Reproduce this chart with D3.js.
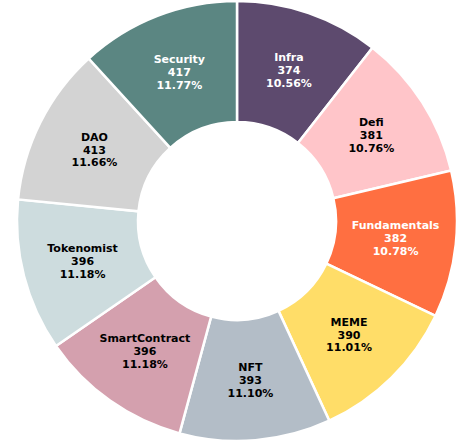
<!DOCTYPE html>
<html>
<head>
<meta charset="utf-8">
<script src="https://cdn.jsdelivr.net/npm/d3@7"></script>
<style>
  body { margin: 0; background: #fff; }
  svg { display: block; }
  .lbl { font-family: "DejaVu Sans", sans-serif; font-weight: bold; font-size: 11px; }
</style>
</head>
<body>
<svg id="chart"></svg>
<script>
let categories = ['Infra', 'Defi', 'Fundamentals', 'MEME', 'NFT', 'SmartContract', 'Tokenomist', 'DAO', 'Security'];
let values = [374, 381, 382, 390, 393, 396, 396, 413, 417];
let colors = ['#5d4a6e', '#ffc5c9', '#ff6f41', '#ffdd68', '#b3bdc7', '#d4a0ae', '#cddcde', '#d3d3d3', '#5b8682'];
let whiteText = ['Infra', 'Fundamentals', 'Security'];

let width = 459, height = 442;
let cx = 237, cy = 221;
let outerR = 220, innerR = 99;

let svg = d3.select('#chart')
  .attr('width', width)
  .attr('height', height);

let total = d3.sum(values);
let data = categories.map((c, i) => ({ name: c, value: values[i], color: colors[i] }));

let pie = d3.pie()
  .sort(null)
  .value(d => d.value);

let arc = d3.arc()
  .innerRadius(innerR)
  .outerRadius(outerR);

let labelArc = d3.arc()
  .innerRadius((innerR + outerR) / 2)
  .outerRadius((innerR + outerR) / 2);

let g = svg.append('g')
  .attr('transform', `translate(${cx}, ${cy})`);

let arcs = pie(data);

g.selectAll('.slice')
  .data(arcs)
  .enter()
  .append('path')
  .attr('class', 'slice')
  .attr('d', arc)
  .attr('fill', d => d.data.color)
  .attr('stroke', '#fff')
  .attr('stroke-width', 2.5);

let labels = g.selectAll('.lbl')
  .data(arcs)
  .enter()
  .append('text')
  .attr('class', 'lbl')
  .attr('text-anchor', 'middle')
  .attr('fill', d => whiteText.includes(d.data.name) ? '#fff' : '#000')
  .attr('transform', d => `translate(${labelArc.centroid(d)})`);

labels.each(function(d) {
  let t = d3.select(this);
  let lines = [d.data.name, d.data.value, (d.data.value / total * 100).toFixed(2) + '%'];
  lines.forEach((s, i) => {
    t.append('tspan')
      .attr('x', 0)
      .attr('y', (i - 1) * 12.8 + 4)
      .text(s);
  });
});
</script>
</body>
</html>
